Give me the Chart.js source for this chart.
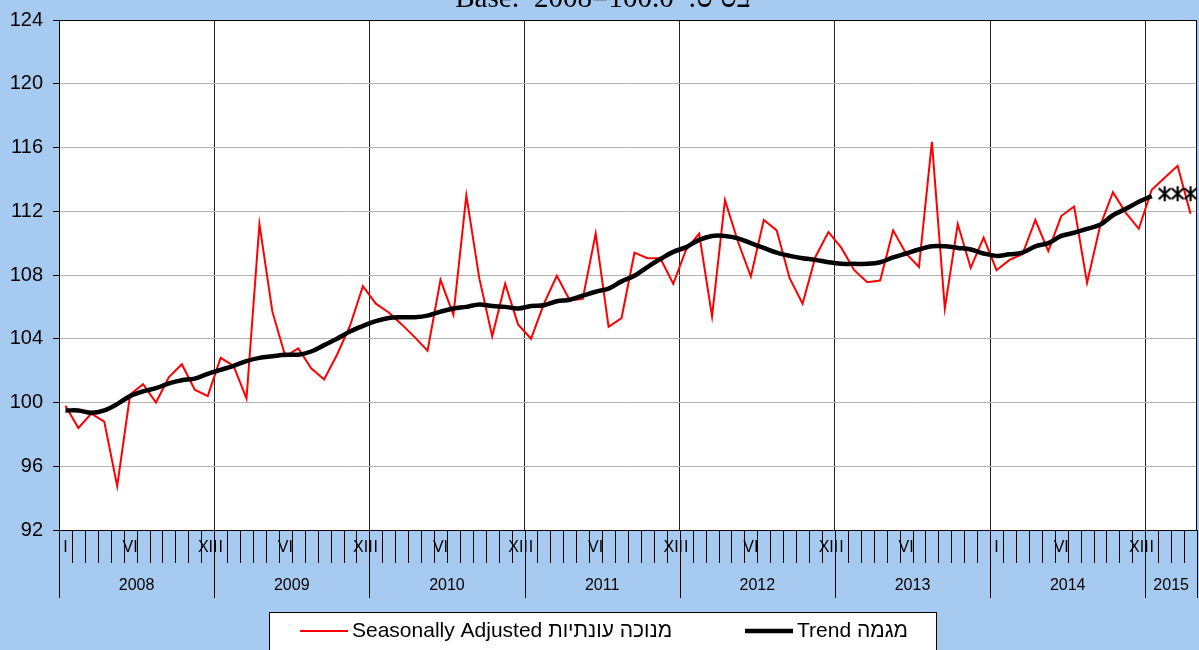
<!DOCTYPE html>
<html>
<head>
<meta charset="utf-8">
<script src="https://cdn.jsdelivr.net/npm/chart.js@4.4.0/dist/chart.umd.min.js"></script>
<style>
  html, body { margin: 0; padding: 0; background: #a6caf0; }
  #wrap { width: 1199px; height: 650px; }
</style>
</head>
<body>
<div id="wrap"><canvas id="c" width="1199" height="650"></canvas></div>
<script>
// Seasonally adjusted index vs. trend, monthly 2008 – Apr 2015 (base 2008=100)
const YEARS = [2008, 2009, 2010, 2011, 2012, 2013, 2014, 2015];
const MONTHS_IN_YEAR = [12, 12, 12, 12, 12, 12, 12, 4];
const FULL_YEAR_TICKS = ["I", "", "", "", "", "VI", "", "", "", "", "", "XII"];
const NO_DEC_TICKS = ["I", "", "", "", "", "VI", "", "", "", "", "", ""];
const MONTH_TICKS = [
  FULL_YEAR_TICKS, FULL_YEAR_TICKS, FULL_YEAR_TICKS, FULL_YEAR_TICKS,
  FULL_YEAR_TICKS, NO_DEC_TICKS, FULL_YEAR_TICKS, ["I", "", "", ""],
];

const SEAS_ADJ = [
  99.8, 98.4, 99.3, 98.8, 94.75, 100.5, 101.15, 100.0, 101.6, 102.4, 100.8, 100.4,
  102.8, 102.3, 100.25, 111.2, 105.7, 102.9, 103.4, 102.15, 101.45, 103.0, 104.8, 107.3,
  106.2, 105.65, 104.9, 104.1, 103.25, 107.7, 105.5, 113.0, 107.8, 104.15, 107.45, 104.9,
  104.0, 106.2, 107.95, 106.4, 106.5, 110.6, 104.75, 105.3, 109.4, 109.05, 109.05, 107.45,
  109.6, 110.6, 105.4, 112.7, 110.1, 107.9, 111.45, 110.8, 107.8, 106.2, 109.15, 110.7,
  109.7, 108.3, 107.55, 107.65, 110.8, 109.35, 108.5, 116.35, 105.9, 111.2, 108.45, 110.35,
  108.3, 108.95, 109.3, 111.45, 109.5, 111.7, 112.3, 107.5, 111.05, 113.2, 111.9, 110.9,
  113.35, 114.1, 114.85, 111.85,
];

const TREND = [
  99.5, 99.5, 99.35, 99.5, 99.9, 100.4, 100.7, 100.9, 101.2, 101.4, 101.5, 101.8,
  102.05, 102.3, 102.6, 102.8, 102.9, 103.0, 103.0, 103.2, 103.6, 104.0, 104.45, 104.8,
  105.1, 105.3, 105.35, 105.35, 105.45, 105.7, 105.9, 106.0, 106.15, 106.05, 106.0, 105.9,
  106.05, 106.1, 106.35, 106.45, 106.7, 106.95, 107.15, 107.6, 107.95, 108.5, 109.0, 109.45,
  109.75, 110.2, 110.45, 110.45, 110.3, 110.0, 109.7, 109.4, 109.2, 109.05, 108.95, 108.8,
  108.7, 108.7, 108.7, 108.8, 109.1, 109.35, 109.6, 109.8, 109.8, 109.7, 109.6, 109.35,
  109.2, 109.3, 109.4, 109.8, 110.0, 110.45, 110.65, 110.9, 111.15, 111.75, 112.15, 112.6,
  112.95,
];

// trend forecast for the last three months (star markers)
const FORECAST = [113.1, 113.1, 113.1];

const Y_MIN = 92, Y_MAX = 124, Y_STEP = 4;

const LABEL_SA = "Seasonally Adjusted מנוכה עונתיות";
const LABEL_TREND = "Trend מגמה";
const TITLE = "Base:  2008=100.0  :בסיס";

const RED = "#ff0000", BLACK = "#000000", BG = "#a6caf0";
const FONT = "'Liberation Sans', Arial, sans-serif";

// month categories
const labels = [], tickText = [];
YEARS.forEach((y, i) => {
  for (let m = 1; m <= MONTHS_IN_YEAR[i]; m++) {
    labels.push(y + "-" + m);
    tickText.push(MONTH_TICKS[i][m - 1]);
  }
});
const yearStart = [];
MONTHS_IN_YEAR.reduce((acc, n) => { yearStart.push(acc); return acc + n; }, 0);
const yearStartSet = new Set(yearStart);

const trendData = labels.map((_, i) => (i < TREND.length ? TREND[i] : null));
const fcStart = TREND.length;
const fcData = labels.map((_, i) =>
  i >= fcStart && i < fcStart + FORECAST.length ? FORECAST[i - fcStart] : null);

// star marker like the spreadsheet one: an X with a vertical bar
const star = document.createElement("canvas");
star.width = 16; star.height = 17;
(() => {
  const g = star.getContext("2d");
  g.strokeStyle = BLACK; g.lineWidth = 2.2;
  g.beginPath();
  g.moveTo(2, 3); g.lineTo(14, 14);
  g.moveTo(14, 3); g.lineTo(2, 14);
  g.moveTo(8, 1); g.lineTo(8, 16);
  g.stroke();
})();

const decor = {
  id: "decor",
  beforeDraw(chart) {
    const { ctx, chartArea: a } = chart;
    ctx.save();
    ctx.fillStyle = BG;
    ctx.fillRect(0, 0, chart.width, chart.height);
    ctx.fillStyle = "#fff";
    ctx.fillRect(a.left, a.top, a.right - a.left, a.bottom - a.top);
    // title, mostly cut off by the top edge
    ctx.fillStyle = "#000";
    ctx.font = "29px 'Liberation Serif', 'Times New Roman', serif";
    ctx.textAlign = "center";
    ctx.textBaseline = "alphabetic";
    ctx.fillText(TITLE, 603, 7);
    ctx.restore();
  },
  afterDraw(chart) {
    const { ctx, chartArea: a } = chart;
    const x = chart.scales.x;
    const n = labels.length;
    const edge = (i) => (i <= 0 ? a.left : i >= n ? a.right
      : (x.getPixelForValue(i - 1) + x.getPixelForValue(i)) / 2);
    ctx.save();
    ctx.strokeStyle = "#000";
    ctx.lineWidth = 1;
    ctx.strokeRect(a.left + 0.5, a.top + 0.5, a.right - a.left - 1, a.bottom - a.top);
    // month ticks and year separators under the axis
    ctx.beginPath();
    for (let i = 0; i <= n; i++) {
      const px = Math.round(edge(i)) + 0.5;
      const isYear = yearStartSet.has(i) || i === n;
      ctx.moveTo(px, a.bottom);
      ctx.lineTo(px, a.bottom + (isYear ? 68 : 33));
    }
    ctx.stroke();
    // year labels
    ctx.fillStyle = "#000";
    ctx.font = "16px " + FONT;
    ctx.textAlign = "center";
    ctx.textBaseline = "middle";
    YEARS.forEach((y, k) => {
      const s = yearStart[k], e = s + MONTHS_IN_YEAR[k];
      ctx.fillText(String(y), (edge(s) + edge(e)) / 2, a.bottom + 56);
    });
    // legend box
    const lx = 269, ly = 612, lw = 668, lh = 44;
    ctx.fillStyle = "#fff";
    ctx.fillRect(lx, ly, lw, lh);
    ctx.strokeRect(lx + 0.5, ly + 0.5, lw - 1, lh);
    const items = [
      { ds: chart.data.datasets[1], x0: 300 },
      { ds: chart.data.datasets[0], x0: 745 },
    ];
    ctx.font = "21px " + FONT;
    ctx.textAlign = "left";
    ctx.textBaseline = "middle";
    items.forEach(({ ds, x0 }) => {
      const cy = 631;
      ctx.strokeStyle = ds.borderColor;
      ctx.lineWidth = ds.borderWidth;
      ctx.beginPath(); ctx.moveTo(x0, cy); ctx.lineTo(x0 + 48, cy); ctx.stroke();
      ctx.fillStyle = "#000";
      ctx.fillText(ds.label, x0 + 52, cy);
    });
    ctx.restore();
  },
};

new Chart(document.getElementById("c"), {
  type: "line",
  data: {
    labels,
    datasets: [
      { label: LABEL_TREND, data: trendData, borderColor: BLACK, borderWidth: 4.5,
        pointRadius: 0, tension: 0.35, order: 1 },
      { label: LABEL_SA, data: SEAS_ADJ, borderColor: RED, borderWidth: 2,
        pointRadius: 0, tension: 0, order: 2 },
      { label: "forecast", data: fcData, showLine: false, pointStyle: star,
        pointRadius: 8, order: 0, clip: false },
    ],
  },
  options: {
    responsive: false,
    animation: false,
    layout: { autoPadding: false, padding: { top: 20, right: 2, left: 0, bottom: 0 } },
    plugins: { legend: { display: false }, tooltip: { enabled: false } },
    scales: {
      x: {
        offset: true,
        grid: {
          offset: true,
          drawTicks: false,
          color: (c) => (c.type === "tick" && c.index > 0 && yearStartSet.has(c.index)
            ? "#222" : "rgba(0,0,0,0)"),
          lineWidth: 1,
        },
        border: { display: true, color: "#000" },
        ticks: {
          autoSkip: false, maxRotation: 0, minRotation: 0, padding: 8,
          color: "#000", font: { family: FONT, size: 16 },
          callback: (v, i) => tickText[i],
        },
        afterFit: (s) => { s.height = 120; s.paddingLeft = 0; s.paddingRight = 0; },
      },
      y: {
        min: Y_MIN, max: Y_MAX,
        ticks: { stepSize: Y_STEP, color: "#000", padding: 10,
          font: { family: FONT, size: 20 } },
        grid: { color: "#b4b4b4", tickColor: "#000", tickLength: 6, lineWidth: 1 },
        border: { color: "#000" },
        afterFit: (s) => { s.width = 59; s.paddingTop = 0; s.paddingBottom = 0; },
      },
    },
  },
  plugins: [decor],
});
</script>
</body>
</html>
